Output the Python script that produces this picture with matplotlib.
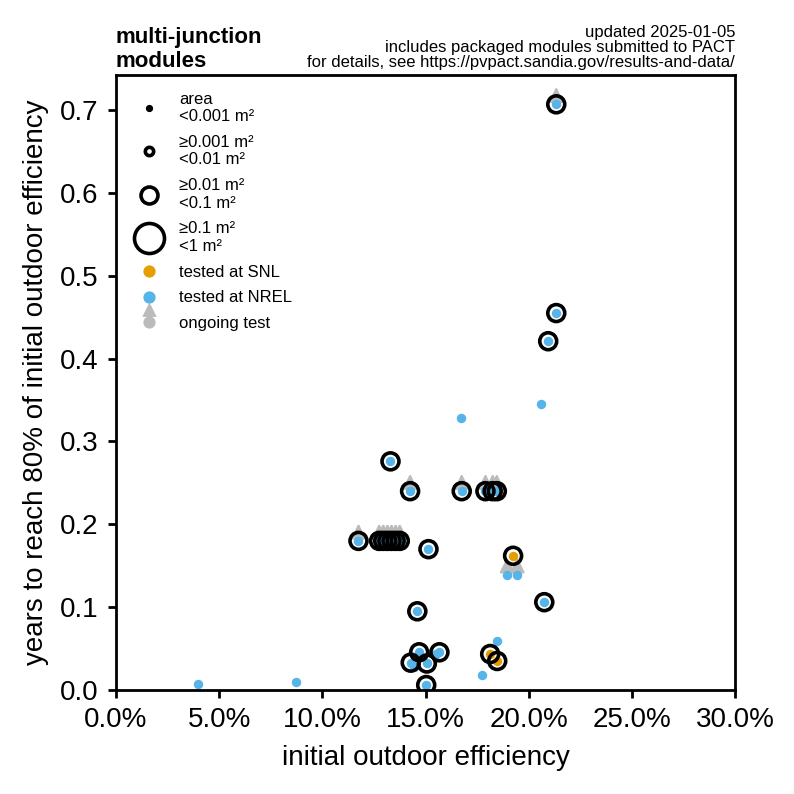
import numpy as np
import matplotlib
matplotlib.use("Agg")
import matplotlib.pyplot as plt
from matplotlib.lines import Line2D
from matplotlib.legend_handler import HandlerBase

plt.rcParams["font.family"] = ["Liberation Sans", "DejaVu Sans"]

# data: efficiency (%), years to 80%, area class, lab, ongoing
eff = np.array([3.97, 8.72, 21.33, 21.33, 20.94, 20.60, 16.70, 13.30,
                14.25, 16.75, 17.90, 18.25, 18.45,
                11.75, 12.75, 12.95, 13.15, 13.35, 13.55, 13.75,
                15.14, 19.24, 18.95, 19.44, 20.75, 14.60,
                18.47, 18.13, 18.47, 17.74,
                14.69, 15.67, 15.50, 14.28, 15.06, 14.42, 15.03])
years = np.array([0.007, 0.010, 0.707, 0.455, 0.421, 0.345, 0.328, 0.276,
                  0.240, 0.240, 0.240, 0.240, 0.240,
                  0.180, 0.180, 0.180, 0.180, 0.180, 0.180, 0.180,
                  0.170, 0.162, 0.139, 0.139, 0.106, 0.095,
                  0.059, 0.0434, 0.035, 0.018,
                  0.0455, 0.0455, 0.043, 0.033, 0.032, 0.028, 0.006])
# 0: <0.001 m2, 2: >=0.01 and <0.1 m2
area_cls = np.array([0, 0, 2, 2, 2, 0, 0, 2,
                     2, 2, 2, 2, 2,
                     2, 2, 2, 2, 2, 2, 2,
                     2, 2, 0, 0, 2, 2,
                     0, 2, 2, 0,
                     2, 2, 0, 2, 2, 0, 2])
lab = np.array(["N", "N", "N", "N", "N", "N", "N", "N",
                "N", "N", "N", "N", "N",
                "N", "N", "N", "N", "N", "N", "N",
                "N", "S", "N", "N", "N", "N",
                "N", "S", "S", "N",
                "N", "N", "N", "N", "N", "N", "N"])
ongoing = np.array([0, 0, 1, 0, 0, 0, 0, 0,
                    1, 1, 1, 1, 1,
                    1, 1, 1, 1, 1, 1, 1,
                    0, 0, 1, 1, 0, 0,
                    0, 0, 0, 0,
                    0, 0, 0, 0, 0, 0, 0], dtype=bool)

ring_sizes = {0: 1.6, 1: 3.0, 2: 6.1, 3: 10.8}   # marker diameter in pt
area_labels = ["area\n<0.001 m²", "≥0.001 m²\n<0.01 m²",
               "≥0.01 m²\n<0.1 m²", "≥0.1 m²\n<1 m²"]

blue = "#56B4E9"
orange = "#E69F00"
grey = "#BBBBBB"


class HandlerOngoing(HandlerBase):
    def create_artists(self, legend, orig_handle, xdescent, ydescent,
                       width, height, fontsize, trans):
        cx = width / 2 - xdescent
        cy = height / 2 - ydescent
        stem = Line2D([cx, cx], [cy, cy + 4.0], color=grey, lw=0.8,
                      transform=trans)
        head = Line2D([cx], [cy + 4.4], marker="^", ms=3.4, color=grey,
                      transform=trans)
        dot = Line2D([cx], [cy], marker="o", ms=3.4, color=grey,
                     transform=trans)
        return [stem, head, dot]


fig, ax = plt.subplots(figsize=(3.97, 3.97), dpi=200)
fig.subplots_adjust(left=0.146, right=0.926, top=0.9055, bottom=0.131)

# ongoing test arrows
for x, y in zip(eff[ongoing], years[ongoing]):
    ax.annotate("", xy=(x, y + 0.021), xytext=(x, y),
                arrowprops=dict(arrowstyle="-|>,head_length=0.3,head_width=0.15",
                                color=grey, lw=0.8, mutation_scale=15,
                                shrinkA=0, shrinkB=0), zorder=1)

# lab dots
for key, col in [("S", orange), ("N", blue)]:
    m = lab == key
    ax.scatter(eff[m], years[m], s=3.4 ** 2, color=col, lw=0, zorder=2)

# area rings
for c in [0, 2]:
    m = area_cls == c
    if c == 0:
        ax.scatter(eff[m], years[m], s=ring_sizes[c] ** 2, color="black",
                   lw=0, zorder=1.5)
    else:
        ax.scatter(eff[m], years[m], s=ring_sizes[c] ** 2, facecolor="none",
                   edgecolor="black", lw=1.3, zorder=3)

ax.set_xlim(0, 30)
ax.set_ylim(0, years.max() * 1.05)
ax.set_xticks(np.arange(0, 31, 5))
ax.set_xticklabels([f"{v:.1f}%" for v in np.arange(0, 31, 5)])
ax.set_yticks(np.arange(0, 0.71, 0.1))
ax.tick_params(labelsize=10, length=2.8, width=1.0)
for sp in ax.spines.values():
    sp.set_linewidth(1.0)
ax.set_xlabel("initial outdoor efficiency", fontsize=10)
ax.set_ylabel("years to reach 80% of initial outdoor efficiency", fontsize=10)

ax.set_title("multi-junction\nmodules", loc="left", fontsize=8,
             fontweight="bold", pad=2, linespacing=1.15)
ax.set_title("updated 2025-01-05\nincludes packaged modules submitted to PACT\n"
             "for details, see https://pvpact.sandia.gov/results-and-data/",
             loc="right", fontsize=6, pad=3, linespacing=1.0)

handles = []
for c in range(4):
    if c == 0:
        handles.append(Line2D([], [], ls="none", marker="o",
                              ms=ring_sizes[c], color="black"))
    else:
        handles.append(Line2D([], [], ls="none", marker="o",
                              ms=ring_sizes[c], mfc="none", mec="black",
                              mew=1.3))
handles.append(Line2D([], [], ls="none", marker="o", ms=3.4, color=orange))
handles.append(Line2D([], [], ls="none", marker="o", ms=3.4, color=blue))
ongoing_handle = Line2D([], [])
handles.append(ongoing_handle)
labels = area_labels + ["tested at SNL", "tested at NREL", "ongoing test"]
ax.legend(handles, labels, loc="upper left", frameon=False, fontsize=6,
          labelspacing=0.65, borderaxespad=0.6,
          handler_map={ongoing_handle: HandlerOngoing()})

fig.savefig("out.png", dpi=200)
